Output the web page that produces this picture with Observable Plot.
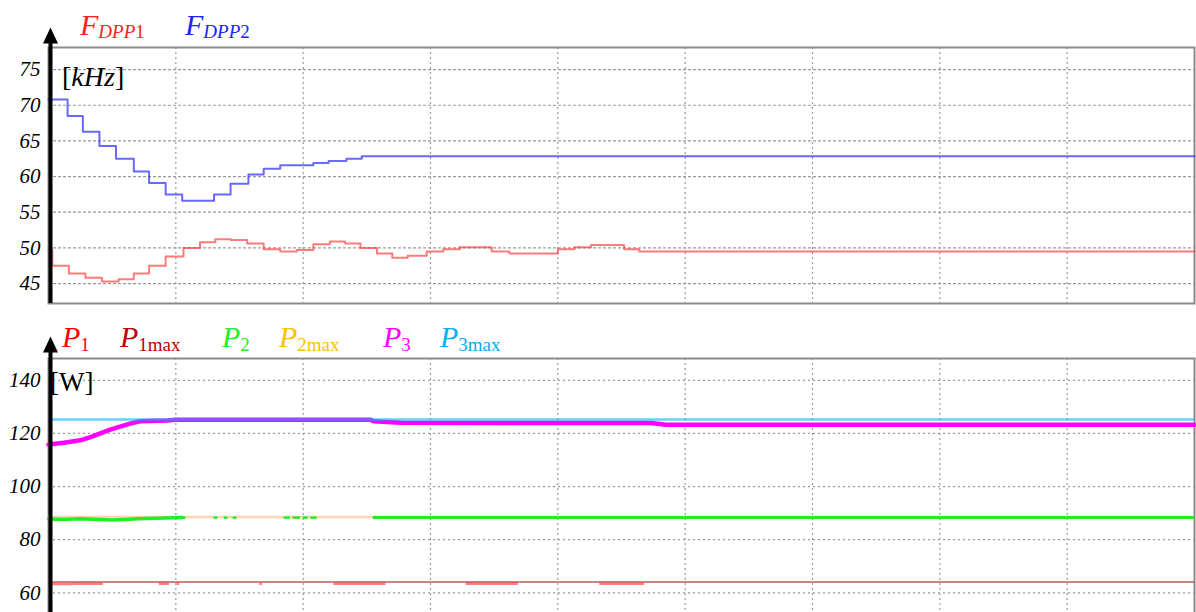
<!DOCTYPE html>
<html>
<head>
<meta charset="utf-8">
<script src="https://cdn.jsdelivr.net/npm/d3@7"></script>
<script src="https://cdn.jsdelivr.net/npm/@observablehq/plot@0.6"></script>
<style>
  html, body { margin: 0; padding: 0; background: #fff; overflow: hidden; }
  #wrap { position: relative; width: 1196px; height: 612px; }
  .panel { position: absolute; left: 0; }
  .lg { position: absolute; font-family: "Liberation Serif", "DejaVu Serif", serif; line-height: 1; white-space: nowrap; }
  .lg i { font-style: italic; font-family: "Liberation Serif", "DejaVu Serif", serif; }
  .lg .s { position: relative; }
</style>
</head>
<body>
<div id="wrap">
  <div id="top" class="panel" style="top:0px"></div>
  <div id="bot" class="panel" style="top:310px"></div>

  <div class="lg" style="left:80px; top:10px; font-size:30px; color:#ff2020"><i>F</i><span class="s" style="font-size:19px; top:3px"><i>DPP</i>1</span></div>
  <div class="lg" style="left:185px; top:10px; font-size:30px; color:#2020ff"><i>F</i><span class="s" style="font-size:19px; top:3px"><i>DPP</i>2</span></div>
  <div class="lg" style="left:62px; top:63px; font-size:28px; color:#000">[<i>kHz</i>]</div>

  <div class="lg" style="left:62px; top:322px; font-size:30px; color:#ff0000"><i>P</i><span class="s" style="font-size:19px; top:4px">1</span></div>
  <div class="lg" style="left:120px; top:322px; font-size:30px; color:#c00000"><i>P</i><span class="s" style="font-size:19px; top:4px">1max</span></div>
  <div class="lg" style="left:222px; top:322px; font-size:30px; color:#22ee22"><i>P</i><span class="s" style="font-size:19px; top:4px">2</span></div>
  <div class="lg" style="left:279px; top:322px; font-size:30px; color:#ffc000"><i>P</i><span class="s" style="font-size:19px; top:4px">2max</span></div>
  <div class="lg" style="left:383px; top:322px; font-size:30px; color:#ff00ff"><i>P</i><span class="s" style="font-size:19px; top:4px">3</span></div>
  <div class="lg" style="left:440px; top:322px; font-size:30px; color:#00b0f0"><i>P</i><span class="s" style="font-size:19px; top:4px">3max</span></div>
  <div class="lg" style="left:50px; top:369px; font-size:27px; color:#000">[W]</div>
</div>
<script>
// ---- data ----
const xGrid = [1, 2, 3, 4, 5, 6, 7, 8];
const fTicks = [45, 50, 55, 60, 65, 70, 75];
const pTicks = [60, 80, 100, 120, 140];

// F_DPP2 (blue) step changes
const dpp2T = [0, 0.15, 0.27, 0.40, 0.53, 0.67, 0.79, 0.92, 1.05, 1.30, 1.43, 1.57, 1.69, 1.82, 2.08, 2.20, 2.34, 2.46, 9];
const dpp2V = [70.8, 68.5, 66.3, 64.3, 62.5, 60.7, 59.1, 57.5, 56.6, 57.5, 59.0, 60.3, 61.1, 61.6, 61.9, 62.2, 62.5, 62.85, 62.85];

// F_DPP1 (red) step changes
const dpp1T = [0, 0.03, 0.16, 0.29, 0.42, 0.55, 0.67, 0.79, 0.92, 1.06, 1.19, 1.31, 1.43, 1.56, 1.69, 1.82, 1.95, 2.08, 2.21, 2.33, 2.45, 2.58, 2.70, 2.82, 2.97, 3.10, 3.23, 3.48, 3.62, 4.00, 4.13, 4.26, 4.52, 4.64, 9];
const dpp1V = [49.7, 47.5, 46.4, 45.8, 45.3, 45.6, 46.4, 47.5, 48.8, 50.0, 50.8, 51.2, 51.1, 50.6, 49.8, 49.5, 49.7, 50.5, 50.9, 50.6, 50.0, 49.2, 48.6, 48.9, 49.5, 49.8, 50.1, 49.5, 49.2, 49.8, 50.1, 50.4, 49.8, 49.5, 49.5];

// P3 (magenta)
const p3T = [0, 0.12, 0.25, 0.33, 0.49, 0.64, 0.72, 0.93, 1.0, 2.53, 2.55, 2.77, 4.73, 4.85, 9];
const p3V = [115.8, 116.5, 117.4, 118.6, 121.5, 123.7, 124.6, 124.9, 125.1, 125.1, 124.6, 124.0, 123.9, 123.3, 123.3];
const p3max = 125.2;

// P2 (green)
const p2T = [0, 0.12, 0.25, 0.4, 0.5, 0.6, 0.7, 0.85, 1.05];
const p2V = [87.8, 87.6, 87.9, 87.6, 87.4, 87.6, 87.9, 88.1, 88.3];
const p2DotStart = [1.06, 1.30, 1.38, 1.45, 1.85, 1.92, 2.00, 2.06];
const p2DotEnd = [1.08, 1.33, 1.41, 1.48, 1.90, 1.98, 2.04, 2.11];
const p2DotV = [88.3, 88.3, 88.3, 88.3, 88.3, 88.3, 88.3, 88.3];
const p2SteadyStart = 2.55;
const p2SteadyV = 88.3;
const p2max = 88.5;

// P1 (red) visible segments
const p1SegStart = [0.02, 0.19, 0.87, 1.01, 1.66, 2.24, 3.28, 4.33];
const p1SegEnd = [0.19, 0.43, 0.95, 1.03, 1.68, 2.65, 3.69, 4.68];
const p1SegV = [63.3, 63.4, 63.4, 63.4, 63.4, 63.4, 63.4, 63.4];
const p1max = 64.1;

// ---- build ----
const zip = (T, V) => T.map((t, i) => ({t, v: V[i]}));
const segs = (S, E, V) => S.map((s, i) => ({x1: s, x2: E[i], y: V[i]}));

const arrowHead = {draw(ctx) { ctx.moveTo(0, -8); ctx.lineTo(7.5, 8); ctx.lineTo(-7.5, 8); ctx.closePath(); }};
const gridStyle = {stroke: "#9a9a9a", strokeWidth: 1.2};
const fontStyle = {fontFamily: "Liberation Serif", fontStyle: "italic", fontSize: "21px", color: "#000", background: "transparent", overflow: "visible"};

function serifTicks(svg) {
  d3.select(svg).selectAll("text")
    .attr("font-family", "Liberation Serif")
    .attr("font-style", "italic")
    .attr("font-size", 21)
    .style("font-family", "'Liberation Serif', 'DejaVu Serif', serif")
    .style("font-style", "italic")
    .style("font-size", "21px")
    .style("font-variant", "normal");
  return svg;
}

const topChart = Plot.plot({
  width: 1196, height: 310,
  marginTop: 47, marginBottom: 7, marginLeft: 48, marginRight: 2,
  style: fontStyle,
  x: {domain: [0, 9], axis: null},
  y: {domain: [42.2, 78.1], ticks: fTicks, tickFormat: d => d, tickSize: 0, tickPadding: 8, label: null},
  marks: [
    Plot.ruleX(xGrid, {...gridStyle, strokeDasharray: "2,3"}),
    Plot.ruleY(fTicks, {...gridStyle, strokeDasharray: "3,2"}),
    Plot.frame({stroke: "#8a8a8a", strokeWidth: 2}),
    Plot.line(zip(dpp1T, dpp1V), {x: "t", y: "v", curve: "step-after", stroke: "#ff2a2a", strokeWidth: 2, strokeOpacity: 0.62}),
    Plot.line(zip(dpp2T, dpp2V), {x: "t", y: "v", curve: "step-after", stroke: "#2a2aff", strokeWidth: 2, strokeOpacity: 0.7}),
    Plot.ruleX([0], {stroke: "#000", strokeWidth: 4, dx: 2, insetTop: -6}),
    Plot.dot([0], {x: d => d, frameAnchor: "top", dx: 2, dy: -12, symbol: arrowHead, fill: "#000", stroke: "none", r: 8})
  ]
});
document.getElementById("top").appendChild(serifTicks(topChart));

const botChart = Plot.plot({
  width: 1196, height: 320,
  marginTop: 48, marginBottom: 0, marginLeft: 48, marginRight: 2,
  style: fontStyle,
  x: {domain: [0, 9], axis: null},
  y: {domain: [45.8, 148.2], ticks: pTicks, tickFormat: d => d, tickSize: 0, tickPadding: 8, label: null},
  marks: [
    Plot.ruleX(xGrid, {...gridStyle, strokeDasharray: "2,3"}),
    Plot.ruleY(pTicks, {...gridStyle, strokeDasharray: "2,3"}),
    Plot.frame({stroke: "#8a8a8a", strokeWidth: 2}),
    // P1max and P1
    Plot.ruleY([p1max], {stroke: "#b03030", strokeOpacity: 0.6, strokeWidth: 2}),
    Plot.ruleY(segs(p1SegStart, p1SegEnd, p1SegV), {x1: "x1", x2: "x2", y: "y", stroke: "#ff0000", strokeOpacity: 0.5, strokeWidth: 2.5}),
    // P2max and P2
    Plot.ruleY([p2max], {stroke: "#fdd5ae", strokeWidth: 2.5}),
    Plot.line(zip(p2T, p2V), {x: "t", y: "v", stroke: "#22ee22", strokeWidth: 3.5}),
    Plot.ruleY(segs(p2DotStart, p2DotEnd, p2DotV), {x1: "x1", x2: "x2", y: "y", stroke: "#22ee22", strokeWidth: 2.5}),
    Plot.ruleY([p2SteadyV], {x1: p2SteadyStart, x2: 9, stroke: "#22ee22", strokeWidth: 3}),
    // P3 and P3max
    Plot.line(zip(p3T, p3V), {x: "t", y: "v", stroke: "#ff00ff", strokeWidth: 4.5}),
    Plot.ruleY([p3max], {stroke: "#00b0ff", strokeOpacity: 0.6, strokeWidth: 2.5}),
    Plot.ruleX([0], {stroke: "#000", strokeWidth: 4, dx: 2, insetTop: -8}),
    Plot.dot([0], {x: d => d, frameAnchor: "top", dx: 2, dy: -14, symbol: arrowHead, fill: "#000", stroke: "none", r: 8})
  ]
});
document.getElementById("bot").appendChild(serifTicks(botChart));
</script>
</body>
</html>
